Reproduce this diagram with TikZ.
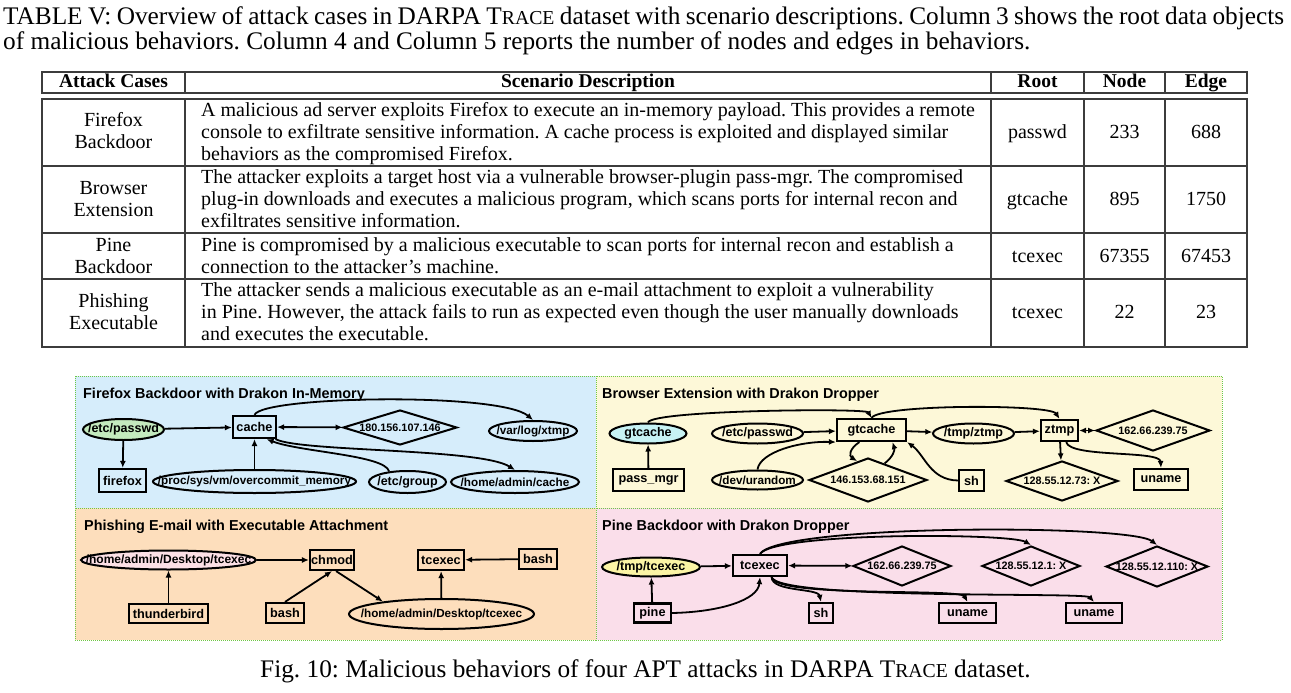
\documentclass[tikz,border=0pt]{standalone}
\usepackage{fontspec}
\usepackage{graphicx}
\setmainfont{Liberation Serif}
\newfontfamily\figfont{Liberation Sans}
\usetikzlibrary{shapes.geometric}
\usetikzlibrary{arrows.meta}

\definecolor{bgblue}{RGB}{214,237,251}
\definecolor{bgyellow}{RGB}{253,248,216}
\definecolor{bgorange}{RGB}{253,222,188}
\definecolor{bgpink}{RGB}{250,222,234}
\definecolor{dotgreen}{RGB}{110,200,70}
\definecolor{rootgreen}{RGB}{196,234,190}
\definecolor{rootcyan}{RGB}{198,242,244}
\definecolor{rootpink}{RGB}{252,224,230}
\definecolor{rootyellow}{RGB}{251,244,165}
\definecolor{tabline}{RGB}{60,60,60}

\newcommand{\tracename}{T\scalebox{0.78}{RACE}}

\begin{document}
\frenchspacing
\begin{tikzpicture}[x=1pt,y=1pt,
capt/.style={inner sep=0pt,font=\fontsize{25.3}{26}\selectfont},
celltext/.style={inner sep=0pt,font=\fontsize{20}{22}\selectfont},
headtext/.style={inner sep=0pt,font=\fontsize{19.5}{22}\selectfont\bfseries},
tabrule/.style={draw=tabline,line width=1.3pt},
panel/.style={draw=dotgreen,densely dotted,line width=1pt},
ttl/.style={inner sep=0pt,font=\figfont\bfseries\fontsize{14.4}{15}\selectfont},
procbox/.style={draw,rectangle,inner sep=0pt,line width=2.2pt,font=\figfont\bfseries\fontsize{12.7}{13}\selectfont},
filenode/.style={draw,ellipse,inner sep=-40pt,line width=2pt,font=\figfont\bfseries\fontsize{12.5}{13}\selectfont},
longname/.style={font=\figfont\bfseries\fontsize{11.7}{12}\selectfont},
socknode/.style={draw,diamond,inner sep=-40pt,line width=2pt,font=\figfont\bfseries\fontsize{10.8}{11}\selectfont},
flowarr/.style={-{Latex[length=7pt,width=6pt]},line width=1.8pt},
bothflow/.style={{Latex[length=7pt,width=6pt]}-{Latex[length=7pt,width=6pt]},line width=1.8pt}]

\useasboundingbox (0,0) rectangle (1291,-693);

% table caption
\node[capt,anchor=base west] (capA) at (3,-25) {\makebox[1281pt][s]{TABLE V: Overview of attack cases in DARPA \tracename{} dataset with scenario descriptions. Column 3 shows the root data objects}};
\node[capt,anchor=base west] (capB) at (3,-50) {of malicious behaviors. Column 4 and Column 5 reports the number of nodes and edges in behaviors.};

% table rules
\draw[tabrule] (42,-72) rectangle (1247,-93);
\draw[tabrule] (42,-99) rectangle (1247,-347);
\draw[tabrule] (42,-166) -- (1247,-166);
\draw[tabrule] (42,-233) -- (1247,-233);
\draw[tabrule] (42,-279) -- (1247,-279);
\draw[tabrule] (185,-72) -- (185,-93) (991,-72) -- (991,-93) (1084,-72) -- (1084,-93) (1165,-72) -- (1165,-93);
\draw[tabrule] (185,-99) -- (185,-347) (991,-99) -- (991,-347) (1084,-99) -- (1084,-347) (1165,-99) -- (1165,-347);

% header
\node[headtext,anchor=base] (hCase) at (113.5,-88) {Attack Cases};
\node[headtext,anchor=base] (hDesc) at (588,-88) {Scenario Description};
\node[headtext,anchor=base] (hRoot) at (1037.5,-88) {Root};
\node[headtext,anchor=base] (hNode) at (1124.5,-88) {Node};
\node[headtext,anchor=base] (hEdge) at (1206,-88) {Edge};

% row 1
\node[celltext,anchor=base] (fxA) at (113.5,-126) {Firefox};
\node[celltext,anchor=base] (fxB) at (113.5,-148) {Backdoor};
\node[celltext,anchor=base west] (fxD1) at (201,-116) {A malicious ad server exploits Firefox to execute an in-memory payload. This provides a remote};
\node[celltext,anchor=base west] (fxD2) at (201,-138) {console to exfiltrate sensitive information. A cache process is exploited and displayed similar};
\node[celltext,anchor=base west] (fxD3) at (201,-160) {behaviors as the compromised Firefox.};
\node[celltext,anchor=base] (fxR) at (1037.5,-138) {passwd};
\node[celltext,anchor=base] (fxN) at (1124.5,-138) {233};
\node[celltext,anchor=base] (fxE) at (1206,-138) {688};

% row 2
\node[celltext,anchor=base] (brA) at (113.5,-194) {Browser};
\node[celltext,anchor=base] (brB) at (113.5,-216) {Extension};
\node[celltext,anchor=base west] (brD1) at (201,-183) {The attacker exploits a target host via a vulnerable browser-plugin pass-mgr. The compromised};
\node[celltext,anchor=base west] (brD2) at (201,-205) {plug-in downloads and executes a malicious program, which scans ports for internal recon and};
\node[celltext,anchor=base west] (brD3) at (201,-227) {exfiltrates sensitive information.};
\node[celltext,anchor=base] (brR) at (1037.5,-205) {gtcache};
\node[celltext,anchor=base] (brN) at (1124.5,-205) {895};
\node[celltext,anchor=base] (brE) at (1206,-205) {1750};

% row 3
\node[celltext,anchor=base] (piA) at (113.5,-251) {Pine};
\node[celltext,anchor=base] (piB) at (113.5,-273) {Backdoor};
\node[celltext,anchor=base west] (piD1) at (201,-251) {Pine is compromised by a malicious executable to scan ports for internal recon and establish a};
\node[celltext,anchor=base west] (piD2) at (201,-273) {connection to the attacker’s machine.};
\node[celltext,anchor=base] (piR) at (1037.5,-262) {tcexec};
\node[celltext,anchor=base] (piN) at (1124.5,-262) {67355};
\node[celltext,anchor=base] (piE) at (1206,-262) {67453};

% row 4
\node[celltext,anchor=base] (phA) at (113.5,-307) {Phishing};
\node[celltext,anchor=base] (phB) at (113.5,-329) {Executable};
\node[celltext,anchor=base west] (phD1) at (201,-296) {The attacker sends a malicious executable as an e-mail attachment to exploit a vulnerability};
\node[celltext,anchor=base west] (phD2) at (201,-318) {in Pine. However, the attack fails to run as expected even though the user manually downloads};
\node[celltext,anchor=base west] (phD3) at (201,-340) {and executes the executable.};
\node[celltext,anchor=base] (phR) at (1037.5,-318) {tcexec};
\node[celltext,anchor=base] (phN) at (1124.5,-318) {22};
\node[celltext,anchor=base] (phE) at (1206,-318) {23};

% panels
\draw[panel,fill=bgblue] (75,-376) rectangle (596,-508);
\draw[panel,fill=bgyellow] (596,-376) rectangle (1222,-508);
\draw[panel,fill=bgorange] (75,-508) rectangle (596,-640);
\draw[panel,fill=bgpink] (596,-508) rectangle (1222,-640);

\node[ttl,anchor=base west] (tFire) at (83,-398) {Firefox Backdoor with Drakon In-Memory};
\node[ttl,anchor=base west] (tBrow) at (602,-398) {Browser Extension with Drakon Dropper};
\node[ttl,anchor=base west] (tPhis) at (84,-530) {Phishing E-mail with Executable Attachment};
\node[ttl,anchor=base west] (tPine) at (602,-530) {Pine Backdoor with Drakon Dropper};

% firefox backdoor
\node[filenode,fill=rootgreen,minimum width=81,minimum height=21] (pwdA) at (123.5,-429.5) {/etc/passwd};
\node[procbox,minimum width=43,minimum height=22] (cacheA) at (254.5,-427) {cache};
\node[socknode,minimum width=114,minimum height=35] (ipA) at (400,-427.5) {180.156.107.146};
\node[filenode,longname,minimum width=88,minimum height=20] (xtmpA) at (533,-431) {/var/log/xtmp};
\node[procbox,minimum width=47,minimum height=23] (ffA) at (122.5,-480.5) {firefox};
\node[filenode,longname,minimum width=203,minimum height=23] (ocmA) at (254.5,-481.5) {/proc/sys/vm/overcommit\_memory};
\node[filenode,minimum width=77,minimum height=22] (grpA) at (407.5,-482) {/etc/group};
\node[filenode,longname,minimum width=128,minimum height=22] (homeA) at (515,-482) {/home/admin/cache};

\draw[flowarr] (pwdA) -- (cacheA);
\draw[flowarr] (pwdA) -- (ffA);
\draw[bothflow] (cacheA) -- (ipA);
\draw[flowarr] (cacheA.north) .. controls (262,-396) and (500,-392) .. (xtmpA.north);
\draw[flowarr] (ocmA) -- (cacheA);
\draw[flowarr] (grpA.150) .. controls (385,-455) and (300,-452) .. (cacheA.-45);
\draw[flowarr] (cacheA.-30) .. controls (300,-452) and (480,-448) .. (homeA.north);

% browser extension
\node[filenode,fill=rootcyan,minimum width=77,minimum height=20] (gtcE) at (648,-433.5) {gtcache};
\node[filenode,minimum width=91,minimum height=20] (pwdB) at (757.5,-433.5) {/etc/passwd};
\node[procbox,minimum width=69,minimum height=22] (gtcB) at (871.5,-430) {gtcache};
\node[filenode,minimum width=81,minimum height=20] (ztmpE) at (973.5,-433.5) {/tmp/ztmp};
\node[procbox,minimum width=37,minimum height=21] (ztmpB) at (1059.5,-430.5) {ztmp};
\node[socknode,minimum width=114,minimum height=41] (ipB) at (1153,-430.5) {162.66.239.75};
\node[procbox,minimum width=71,minimum height=22] (pmB) at (648.5,-480) {pass\_mgr};
\node[filenode,longname,minimum width=91,minimum height=19] (urandB) at (757.5,-480) {/dev/urandom};
\node[socknode,minimum width=118,minimum height=44] (ipB2) at (868,-480) {146.153.68.151};
\node[procbox,minimum width=25,minimum height=21] (shB) at (971.5,-480.5) {sh};
\node[socknode,minimum width=112,minimum height=40] (ipB3) at (1062,-481) {128.55.12.73: X};
\node[procbox,minimum width=54,minimum height=21] (unB) at (1161,-479.5) {uname};

\draw[flowarr] (gtcE.north) .. controls (652,-410) and (866,-408) .. (gtcB.north);
\draw[flowarr] (pmB) -- (gtcE);
\draw[flowarr] (pwdB) -- (gtcB);
\draw[flowarr] (gtcB) -- (ztmpE);
\draw[flowarr] (ztmpE) -- (ztmpB);
\draw[bothflow] (ztmpB) -- (ipB);
\draw[flowarr] (gtcB.north) .. controls (880,-404) and (1050,-404) .. (ztmpB.north);
\draw[flowarr] (urandB.north) .. controls (760,-452) and (800,-441) .. (gtcB.south west);
\draw[flowarr] (gtcB.-135) .. controls (849,-449) and (849,-456) .. (ipB2.120);
\draw[flowarr] (ipB2.45) .. controls (893,-457) and (895,-450) .. (gtcB.-30);
\draw[flowarr] (shB.west) .. controls (930,-480) and (925,-455) .. (gtcB.south east);
\draw[flowarr] (ztmpB) -- (ipB3);
\draw[flowarr] (ztmpB.-60) .. controls (1070,-458) and (1160,-450) .. (unB.north);

% phishing e-mail
\node[filenode,fill=rootpink,font=\figfont\bfseries\fontsize{12}{12}\selectfont,minimum width=175,minimum height=19] (homeC) at (168.5,-560) {/home/admin/Desktop/tcexec};
\node[procbox,minimum width=44,minimum height=20] (chmodC) at (332,-560) {chmod};
\node[procbox,minimum width=46,minimum height=20] (tcexC) at (441,-560) {tcexec};
\node[procbox,minimum width=38,minimum height=20] (bashC) at (538,-559) {bash};
\node[procbox,minimum width=79,minimum height=19] (tbC) at (168.5,-613.5) {thunderbird};
\node[procbox,minimum width=38,minimum height=20] (bashC2) at (285,-613) {bash};
\node[filenode,longname,minimum width=185,minimum height=30] (homeC2) at (441.5,-614) {/home/admin/Desktop/tcexec};

\draw[flowarr] (homeC) -- (chmodC);
\draw[flowarr] (tbC) -- (homeC);
\draw[flowarr] (bashC2.north) -- (chmodC.south);
\draw[flowarr] (chmodC.-70) -- (homeC2.168);
\draw[flowarr] (homeC2) -- (tcexC);
\draw[flowarr] (bashC) -- (tcexC);

% pine backdoor
\node[filenode,fill=rootyellow,minimum width=98,minimum height=19] (tmpD) at (651,-567) {/tmp/tcexec};
\node[procbox,minimum width=54,minimum height=21] (tcexD) at (760,-565.5) {tcexec};
\node[socknode,minimum width=98,minimum height=40] (ipD1) at (902,-566) {162.66.239.75};
\node[socknode,minimum width=98,minimum height=40] (ipD2) at (1031,-566) {128.55.12.1: X};
\node[socknode,minimum width=102,minimum height=41] (ipD3) at (1157,-566.5) {128.55.12.110: X};
\node[procbox,minimum width=37,minimum height=19] (pineD) at (652.5,-613) {pine};
\node[procbox,minimum width=24,minimum height=20] (shD) at (821,-613) {sh};
\node[procbox,minimum width=57,minimum height=20] (unD1) at (967.5,-613) {uname};
\node[procbox,minimum width=56,minimum height=20] (unD2) at (1094,-613) {uname};

\draw[flowarr] (tmpD) -- (tcexD);
\draw[flowarr] (pineD) -- (tmpD);
\draw[flowarr] (pineD.east) .. controls (720,-612) and (758,-600) .. (tcexD.south);
\draw[bothflow] (tcexD) -- (ipD1);
\draw[flowarr] (tcexD.north) .. controls (775,-532) and (1010,-533) .. (ipD2.north);
\draw[flowarr] (tcexD.north) .. controls (780,-524) and (1130,-524) .. (ipD3.north);
\draw[flowarr] (tcexD.-45) .. controls (772,-592) and (818,-588) .. (shD.north);
\draw[flowarr] (tcexD.-45) .. controls (775,-598) and (960,-588) .. (unD1.north);
\draw[flowarr] (tcexD.-45) .. controls (778,-600) and (1085,-592) .. (unD2.north);

% figure caption
\node[capt,anchor=base] (figcap) at (645.5,-677) {Fig. 10: Malicious behaviors of four APT attacks in DARPA \tracename{} dataset.};

\end{tikzpicture}
\end{document}
